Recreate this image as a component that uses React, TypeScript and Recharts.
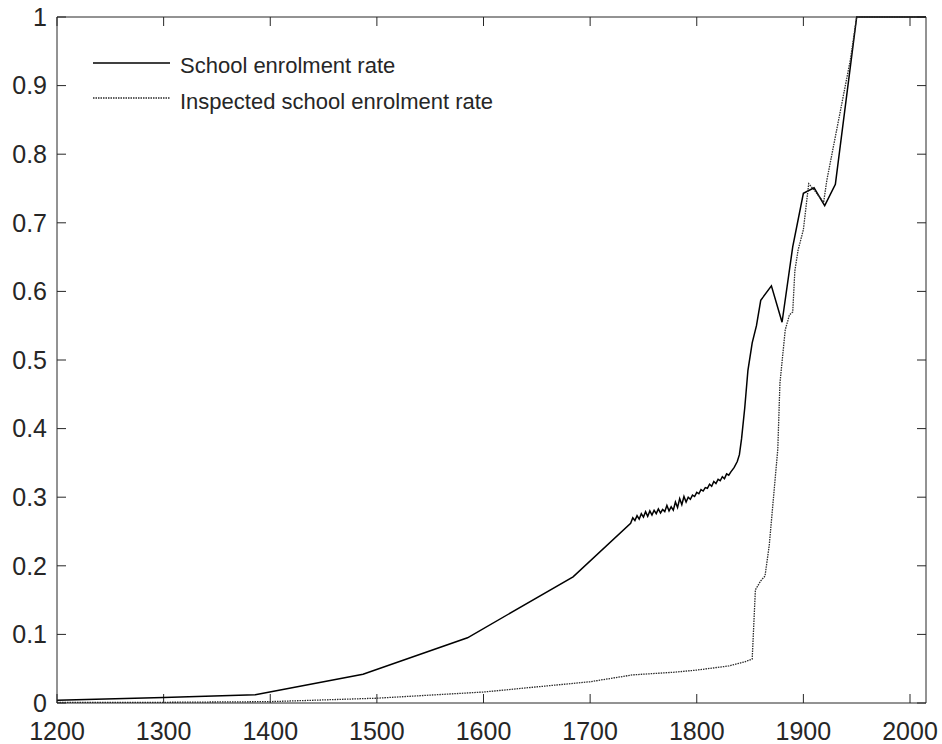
import React from "react";
import { LineChart, Line, XAxis, YAxis, ReferenceLine } from "recharts";

const schoolYears = [
  1200, 1300, 1386, 1487, 1585, 1684, 1738,
  1740, 1742, 1744, 1746, 1748, 1750, 1752, 1754, 1756, 1758,
  1760, 1762, 1764, 1766, 1768, 1770, 1772, 1774, 1776, 1778,
  1780, 1782, 1784, 1786, 1788, 1790, 1792, 1794, 1796, 1798,
  1800, 1802, 1804, 1806, 1808, 1810, 1812, 1814, 1816, 1818,
  1820, 1822, 1824, 1826, 1828, 1830, 1832, 1835, 1838, 1840,
  1842, 1845, 1848, 1852, 1856, 1860, 1870, 1880, 1890, 1900,
  1910, 1920, 1930, 1950, 2015,
];
const schoolRate = [
  0.004, 0.008, 0.012, 0.042, 0.095, 0.184, 0.262,
  0.270, 0.266, 0.273, 0.268, 0.276, 0.271, 0.279, 0.272, 0.280, 0.274,
  0.281, 0.276, 0.283, 0.277, 0.282, 0.279, 0.288, 0.280, 0.286, 0.281,
  0.293, 0.285, 0.298, 0.289, 0.301, 0.293, 0.300, 0.297, 0.303, 0.301,
  0.307, 0.305, 0.311, 0.309, 0.314, 0.313, 0.319, 0.316, 0.323, 0.320,
  0.326, 0.324, 0.330, 0.327, 0.334, 0.332, 0.337, 0.343, 0.352, 0.362,
  0.385, 0.43, 0.485, 0.525, 0.55, 0.587, 0.608, 0.555, 0.665, 0.743,
  0.751, 0.725, 0.756, 1.0, 1.0,
];

const inspectedYears = [
  1200, 1300, 1400, 1500, 1600, 1700, 1740, 1780, 1800, 1830, 1845, 1852,
  1855, 1860, 1864, 1868, 1872, 1876, 1878, 1883, 1887, 1890, 1892, 1895,
  1900, 1905, 1910, 1919, 1922, 1944, 1950, 2015,
];
const inspectedRate = [
  0.001, 0.001, 0.002, 0.007, 0.016, 0.031, 0.041, 0.045, 0.048, 0.054, 0.06, 0.064,
  0.165, 0.178, 0.185, 0.23, 0.3, 0.37, 0.466, 0.544, 0.566, 0.57, 0.63, 0.66,
  0.69, 0.757, 0.748, 0.73, 0.762, 0.937, 1.0, 1.0,
];

const xTicks = [1200, 1300, 1400, 1500, 1600, 1700, 1800, 1900, 2000];
const yTicks = [0, 0.1, 0.2, 0.3, 0.4, 0.5, 0.6, 0.7, 0.8, 0.9, 1];

const school = schoolYears.map((year, i) => ({ year, rate: schoolRate[i] }));
const inspected = inspectedYears.map((year, i) => ({ year, rate: inspectedRate[i] }));

const axisColor = "#262626";
const dotColor = "#2a2a2a";
const font = "'Liberation Sans', Arial, sans-serif";
const tickStyle = { fontSize: 25, fill: axisColor, fontFamily: font };
const TICK = 9;

// inward tick marks at both ends of a full-height reference line
const VTicks = (p: any) => {
  const top = Math.min(p.y1, p.y2);
  const bot = Math.max(p.y1, p.y2);
  return (
    <g>
      <line x1={p.x1} x2={p.x1} y1={bot} y2={bot - TICK} stroke={axisColor} strokeWidth={1} />
      <line x1={p.x1} x2={p.x1} y1={top} y2={top + TICK} stroke={axisColor} strokeWidth={1} />
    </g>
  );
};

const HTicks = (p: any) => {
  const l = Math.min(p.x1, p.x2);
  const r = Math.max(p.x1, p.x2);
  return (
    <g>
      <line x1={l} x2={l + TICK} y1={p.y1} y2={p.y1} stroke={axisColor} strokeWidth={1} />
      <line x1={r} x2={r - TICK} y1={p.y1} y2={p.y1} stroke={axisColor} strokeWidth={1} />
    </g>
  );
};

// legend sits inside the plot box, top-left
function LegendBox() {
  return (
    <svg
      width={480}
      height={70}
      style={{ position: "absolute", left: 88, top: 48, display: "block" }}
    >
      <line x1={5} x2={82} y1={15} y2={15} stroke="#000" strokeWidth={1.5} />
      <text x={92} y={17} dy="0.36em" fontSize={22} fontFamily={font} fill={axisColor}>
        School enrolment rate
      </text>
      <line x1={5} x2={82} y1={50} y2={50} stroke={dotColor} strokeWidth={1.3} strokeDasharray="1.5 1" />
      <text x={92} y={53} dy="0.36em" fontSize={22} fontFamily={font} fill={axisColor}>
        Inspected school enrolment rate
      </text>
    </svg>
  );
}

export default function App() {
  return (
    <div style={{ position: "absolute", left: 0, top: 0, width: 942, height: 744, background: "#fff" }}>
      <LineChart width={942} height={744} margin={{ top: 16, right: 15, bottom: 0, left: 0 }}>
        <XAxis
          xAxisId="main"
          dataKey="year"
          type="number"
          domain={[1200, 2015]}
          ticks={xTicks}
          allowDataOverflow
          height={41}
          stroke={axisColor}
          tickLine={false}
          tickSize={0}
          tickMargin={19}
          tick={tickStyle}
        />
        <XAxis
          xAxisId="top"
          orientation="top"
          dataKey="year"
          type="number"
          domain={[1200, 2015]}
          ticks={xTicks}
          height={1}
          stroke={axisColor}
          tickLine={false}
          tick={false}
        />
        <YAxis
          yAxisId="main"
          type="number"
          domain={[0, 1]}
          ticks={yTicks}
          width={57}
          stroke={axisColor}
          tickLine={false}
          tickSize={0}
          tickMargin={10}
          tick={tickStyle}
        />
        <YAxis
          yAxisId="right"
          orientation="right"
          type="number"
          domain={[0, 1]}
          ticks={yTicks}
          width={1}
          stroke={axisColor}
          tickLine={false}
          tick={false}
        />
        {xTicks.map((t) => (
          <ReferenceLine key={"x" + t} xAxisId="main" yAxisId="main" x={t} shape={VTicks} />
        ))}
        {yTicks.map((t) => (
          <ReferenceLine key={"y" + t} xAxisId="main" yAxisId="main" y={t} shape={HTicks} />
        ))}
        <Line
          xAxisId="main"
          yAxisId="main"
          data={school}
          dataKey="rate"
          type="linear"
          stroke="#000"
          strokeWidth={1.5}
          dot={false}
          isAnimationActive={false}
        />
        <Line
          xAxisId="main"
          yAxisId="main"
          data={inspected}
          dataKey="rate"
          type="linear"
          stroke={dotColor}
          strokeWidth={1.3}
          strokeDasharray="1.5 1"
          dot={false}
          isAnimationActive={false}
        />
      </LineChart>
      <LegendBox />
    </div>
  );
}
